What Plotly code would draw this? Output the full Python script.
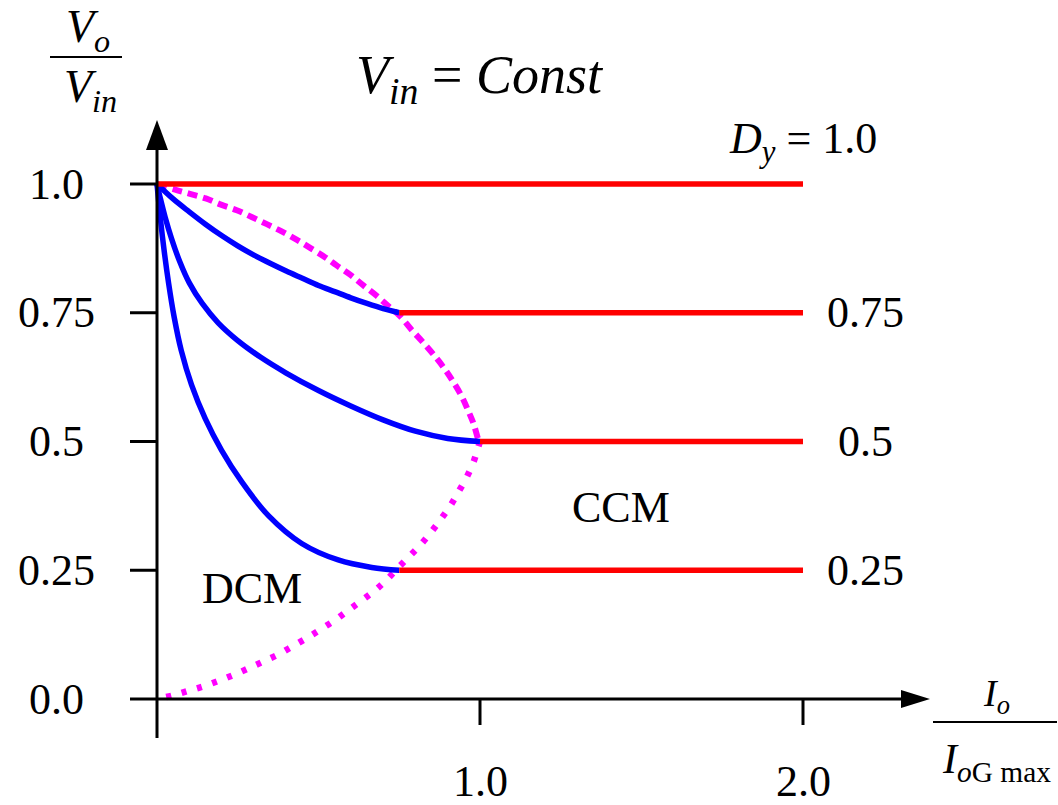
import plotly.graph_objects as go

# Output characteristic: Vo/Vin versus normalised load current, Vin constant
duty_levels = [1.0, 0.75, 0.5, 0.25]
duty_labels = ["<i>D</i><sub><i>y</i></sub> = 1.0", "0.75", "0.5", "0.25"]

# CCM plateaus: start of each flat segment (on the boundary) and common end
ccm_start = [0.0, 0.75, 1.0, 0.75]
ccm_end = 2.0

# DCM curves (blue), one per duty ratio below 1
dcm_075_x = [0.0, 0.05, 0.10, 0.15, 0.20, 0.25, 0.30, 0.35, 0.40, 0.45, 0.50, 0.55, 0.60, 0.65, 0.70, 0.75]
dcm_075_y = [1.0, 0.971, 0.946, 0.922, 0.900, 0.880, 0.862, 0.846, 0.831, 0.817, 0.803, 0.791, 0.779, 0.768, 0.758, 0.750]

dcm_050_x = [0.0, 0.01, 0.025, 0.045, 0.07, 0.10, 0.14, 0.19, 0.25, 0.32, 0.40, 0.50, 0.60, 0.70, 0.80, 0.90, 1.0]
dcm_050_y = [1.0, 0.973, 0.936, 0.894, 0.850, 0.808, 0.768, 0.730, 0.696, 0.664, 0.633, 0.599, 0.569, 0.542, 0.520, 0.506, 0.500]

dcm_025_x = [0.0, 0.010, 0.022, 0.036, 0.053, 0.075, 0.107, 0.149, 0.200, 0.262, 0.345, 0.448, 0.561, 0.665, 0.750]
dcm_025_y = [1.0, 0.936, 0.871, 0.807, 0.742, 0.677, 0.610, 0.545, 0.483, 0.422, 0.356, 0.302, 0.270, 0.2555, 0.250]

# CCM/DCM boundary: upper half (dashed) and lower half (dotted)
bound_hi_x = [0.0, 0.056, 0.102, 0.151, 0.198, 0.247, 0.293, 0.340, 0.386, 0.432, 0.474, 0.520, 0.556,
              0.600, 0.639, 0.680, 0.716, 0.750, 0.788, 0.823, 0.856, 0.887, 0.915, 0.943, 0.964, 0.981, 0.995, 1.0]
bound_hi_y = [1.0, 0.989, 0.981, 0.972, 0.960, 0.949, 0.936, 0.922, 0.908, 0.892, 0.876, 0.858, 0.842,
              0.823, 0.803, 0.783, 0.763, 0.745, 0.717, 0.693, 0.669, 0.644, 0.618, 0.588, 0.559, 0.533, 0.504, 0.5]

bound_lo_x = [1.0, 0.996, 0.981, 0.960, 0.936, 0.910, 0.881, 0.851, 0.818, 0.783, 0.748, 0.712, 0.675, 0.635,
              0.594, 0.553, 0.511, 0.468, 0.424, 0.380, 0.333, 0.288, 0.242, 0.194, 0.146, 0.098, 0.049, 0.0]
bound_lo_y = [0.5, 0.492, 0.462, 0.432, 0.405, 0.377, 0.351, 0.326, 0.301, 0.278, 0.256, 0.232, 0.211, 0.192,
              0.173, 0.154, 0.137, 0.120, 0.104, 0.088, 0.074, 0.061, 0.048, 0.036, 0.025, 0.016, 0.007, 0.0]

y_ticks = [0.0, 0.25, 0.5, 0.75, 1.0]
y_tick_text = ["0.0", "0.25", "0.5", "0.75", "1.0"]
x_ticks = [1.0, 2.0]
x_tick_text = ["1.0", "2.0"]

W, H = 1058, 805
X0_PX, Y0_PX = 157, 699      # pixel position of the origin
SX, SY = 323, 515            # pixels per unit on each axis


def dx(px):
    return (px - X0_PX) / SX


def dy(py):
    return (Y0_PX - py) / SY


RED, BLUE, MAG = "#FF0000", "#0000FF", "#FF00FF"
FONT = "Liberation Serif"

fig = go.Figure()

# boundary curves
fig.add_trace(go.Scatter(x=bound_hi_x, y=bound_hi_y, mode="lines",
                         line=dict(color=MAG, width=6, dash="10px,6px", shape="spline"),
                         hoverinfo="skip"))
fig.add_trace(go.Scatter(x=bound_lo_x, y=bound_lo_y, mode="lines",
                         line=dict(color=MAG, width=6.5, dash="5px,11px", shape="spline"),
                         hoverinfo="skip"))

# DCM curves
for xs, ys in [(dcm_075_x, dcm_075_y), (dcm_050_x, dcm_050_y), (dcm_025_x, dcm_025_y)]:
    fig.add_trace(go.Scatter(x=xs, y=ys, mode="lines",
                             line=dict(color=BLUE, width=5.5, shape="spline", smoothing=1),
                             hoverinfo="skip"))

# CCM plateaus
for lvl, xs in zip(duty_levels, ccm_start):
    fig.add_trace(go.Scatter(x=[xs, ccm_end], y=[lvl, lvl], mode="lines",
                             line=dict(color=RED, width=5.5), hoverinfo="skip"))

shapes = []
AX = dict(color="black", width=3)
# axes
shapes.append(dict(type="line", xref="x", yref="y", x0=0, x1=0, y0=dy(738), y1=dy(148), line=AX))
shapes.append(dict(type="line", xref="x", yref="y", x0=0, x1=dx(903), y0=0, y1=0, line=AX))
# arrow heads
shapes.append(dict(type="path", xref="x", yref="y", fillcolor="black", line=dict(width=0),
                   path=f"M {dx(157-11)},{dy(150)} L {dx(157+11)},{dy(150)} L 0,{dy(120)} Z"))
shapes.append(dict(type="path", xref="x", yref="y", fillcolor="black", line=dict(width=0),
                   path=f"M {dx(901)},{dy(699-9)} L {dx(901)},{dy(699+9)} L {dx(930)},0 Z"))
# ticks
for t in y_ticks:
    shapes.append(dict(type="line", xref="x", yref="y", x0=dx(130), x1=0, y0=t, y1=t, line=AX))
for t in x_ticks:
    shapes.append(dict(type="line", xref="x", yref="y", x0=t, x1=t, y0=0, y1=dy(725), line=AX))
# fraction bars of the axis titles
shapes.append(dict(type="line", xref="x", yref="y", x0=dx(50), x1=dx(122), y0=dy(57), y1=dy(57),
                   line=dict(color="black", width=2)))
shapes.append(dict(type="line", xref="x", yref="y", x0=dx(933), x1=dx(1057), y0=dy(722), y1=dy(722),
                   line=dict(color="black", width=2)))

ann = []


def text(s, x, y, size=44, xanchor="center"):
    ann.append(dict(text=s, x=x, y=y, xref="x", yref="y", showarrow=False,
                    xanchor=xanchor, yanchor="middle",
                    font=dict(family=FONT, size=size, color="black")))


for t, s in zip(y_ticks, y_tick_text):
    text(s, dx(56), t)
for t, s in zip(x_ticks, x_tick_text):
    text(s, t, dy(781))

# duty ratio labels at the right end of each plateau
text(duty_labels[0], dx(803), dy(141))
for lvl, s in zip(duty_levels[1:], duty_labels[1:]):
    text(s, dx(865), lvl)

text("CCM", dx(621), dy(507))
text("DCM", dx(252), dy(588))

text("<i>V</i><sub><i>in</i></sub> = <i>Const</i>", dx(480), dy(78), size=54)

text("<i>V</i><sub><i>o</i></sub>", dx(88), dy(30), size=46)
text("<i>V</i><sub><i>in</i></sub>", dx(90), dy(90), size=46)

text("<i>I</i><sub><i>o</i></sub>", dx(996), dy(696), size=38)
text("<i>I</i><sub><i>o</i>G max</sub>", dx(996), dy(762), size=42)

fig.update_layout(
    width=W, height=H,
    margin=dict(l=0, r=0, t=0, b=0),
    paper_bgcolor="white", plot_bgcolor="white",
    showlegend=False,
    xaxis=dict(range=[dx(0), dx(W)], visible=False, fixedrange=True),
    yaxis=dict(range=[dy(H), dy(0)], visible=False, fixedrange=True),
    shapes=shapes,
    annotations=ann,
)

fig.write_html("out.html")
